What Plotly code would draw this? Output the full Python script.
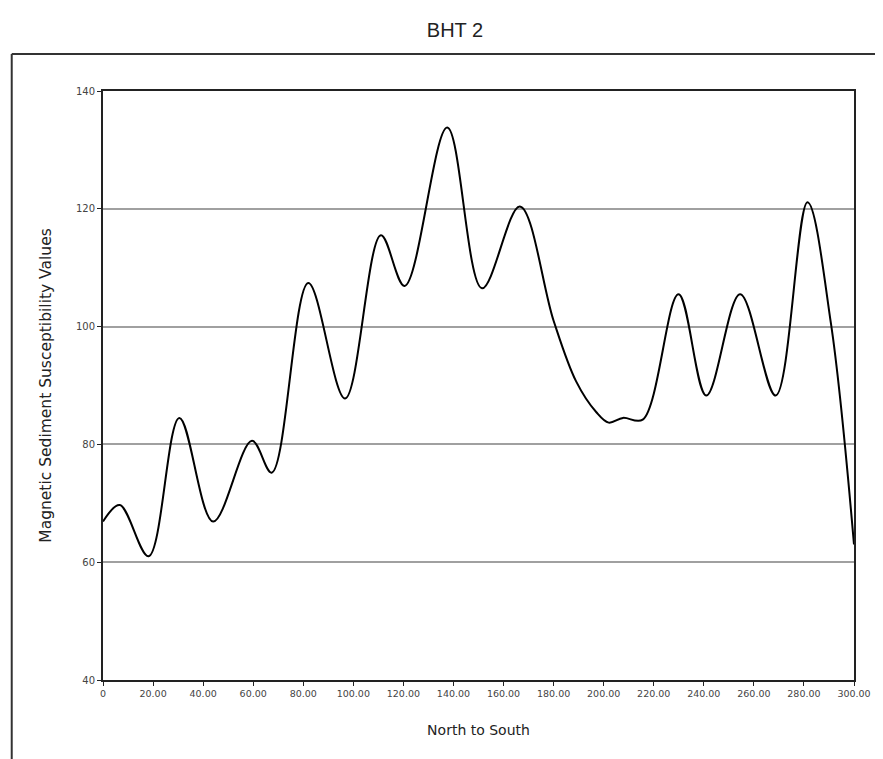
import plotly.graph_objects as go

# Data
distance = [0, 6.7, 18.2, 30.5, 44.0, 59.5, 67.4, 82.0, 96.7, 111.0, 120.5, 137.5,
            151.4, 166.5, 180.0, 189.0, 197.0, 202.0, 207.7, 215.6, 229.9,
            241.0, 254.5, 268.7, 281.4, 290.8, 300.0]
susceptibility = [66.9, 69.7, 61.0, 84.5, 66.9, 80.6, 75.2, 107.4, 87.8, 115.5, 106.9,
                  133.8, 106.5, 120.4, 101.0, 90.7, 85.5, 83.7, 84.5, 84.2, 105.5,
                  88.3, 105.5, 88.3, 121.1, 100.5, 63.0]
x_tick_vals = [0, 20, 40, 60, 80, 100, 120, 140, 160, 180, 200, 220, 240, 260, 280, 300]
x_tick_text = ["0", "20.00", "40.00", "60.00", "80.00", "100.00", "120.00", "140.00",
               "160.00", "180.00", "200.00", "220.00", "240.00", "260.00", "280.00",
               "300.00"]
y_tick_vals = [40, 60, 80, 100, 120, 140]

fig = go.Figure()
fig.add_trace(go.Scatter(
    x=distance, y=susceptibility, mode="lines",
    line=dict(color="black", width=2, shape="spline", smoothing=1.0),
    showlegend=False, hoverinfo="skip"))

# page body adds ~8px offset; layout coordinates are compensated
OFF = 8
W, H = 883 - OFF, 759 - OFF
L, R, T, B = 103 - OFF, 860 - OFF, 91 - OFF, 680 - OFF

def px(x):
    return (x - OFF - L) / (R - L)

def py(y):
    return (B - (y - OFF)) / (B - T)

fig.update_layout(
    width=W, height=H,
    margin=dict(l=L, r=W - R, t=T, b=H - B),
    paper_bgcolor="white", plot_bgcolor="white",
    title=dict(text="BHT 2", x=(455 - OFF) / W, xanchor="center", y=1 - (30 - OFF) / H,
               yanchor="middle",
               font=dict(family="Liberation Sans, Arial", size=20, color="#222")),
    font=dict(family="DejaVu Sans", color="#222"),
    xaxis=dict(range=[0, 300], tickmode="array", tickvals=x_tick_vals, ticktext=x_tick_text,
               showgrid=False, zeroline=False, showline=True, linecolor="#222", linewidth=2,
               mirror=True, ticks="outside", ticklen=4, tickcolor="#222",
               tickfont=dict(size=9.5, color="#444"),
               title=dict(text="North to South", font=dict(size=14, color="#222"), standoff=27)),
    yaxis=dict(range=[40, 140], tickmode="array", tickvals=y_tick_vals,
               showgrid=True, gridcolor="#a0a0a0", gridwidth=1.5, zeroline=False,
               showline=True, linecolor="#222", linewidth=2, mirror=True,
               ticks="outside", ticklen=4, tickcolor="#222",
               tickfont=dict(size=10, color="#444"),
               title=dict(text="Magnetic Sediment Susceptibility Values",
                          font=dict(size=15.5, color="#222"), standoff=20)),
    shapes=[
        dict(type="line", xref="paper", yref="paper", x0=px(11), x1=px(11), y0=py(54), y1=py(770),
             line=dict(color="#333", width=2)),
        dict(type="line", xref="paper", yref="paper", x0=px(11), x1=px(895), y0=py(54), y1=py(54),
             line=dict(color="#333", width=2)),
    ],
)

fig.write_html("out.html")
